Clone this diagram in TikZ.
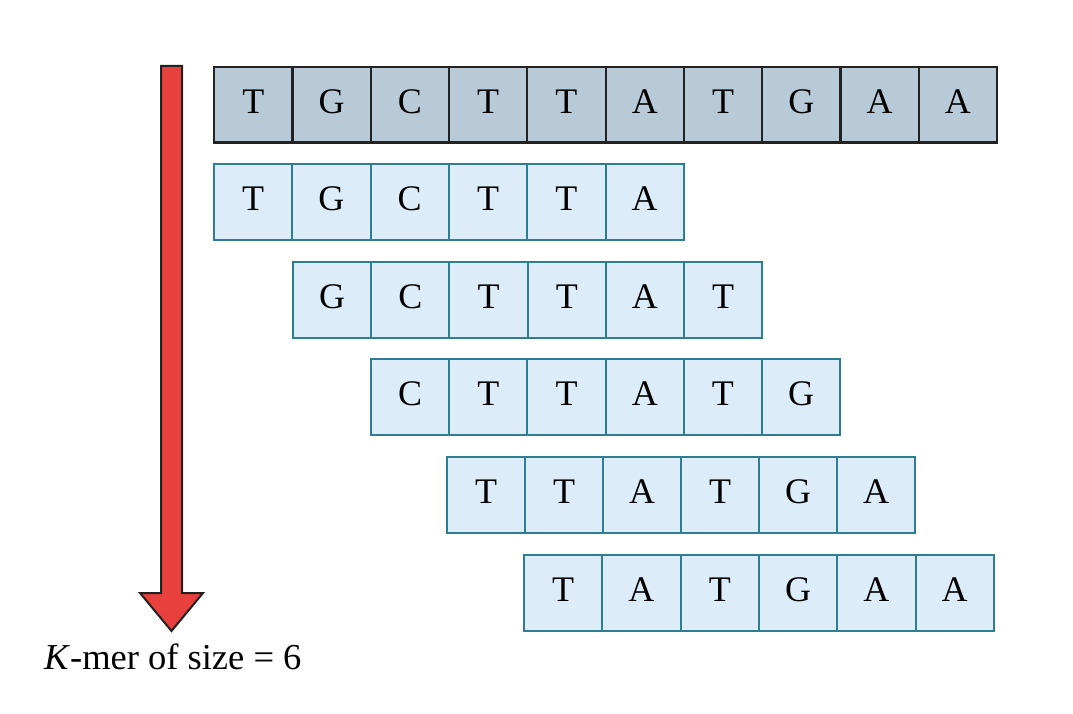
\documentclass[tikz,border=0pt]{standalone}
\usepackage{fontspec}
\setmainfont{Liberation Serif}
\definecolor{topfill}{RGB}{184,201,216}
\definecolor{kfill}{RGB}{220,237,249}
\definecolor{kdraw}{RGB}{47,125,145}
\definecolor{arrowred}{RGB}{232,64,60}
\definecolor{darkline}{RGB}{34,34,34}
\begin{document}
\begin{tikzpicture}[x=1pt,y=-1pt,
  cellbase/.style={minimum width=78.3pt,inner sep=0pt,text height=25pt,text depth=8pt,font=\fontsize{36}{40}\selectfont,anchor=north west},
  topcell/.style={cellbase,draw=darkline,fill=topfill,line width=2.2pt,minimum height=75.5pt},
  kcell/.style={cellbase,draw=kdraw,fill=kfill,line width=2pt,minimum height=76pt}]
\useasboundingbox (0,0) rectangle (1073,714);
% top sequence
\foreach \l [count=\i from 0] in {T,G,C,T,T,A,T,G,A,A}
  \node[topcell] (s\i) at ({213+78.3*\i},66) {\l};
% k-mers
\foreach \l [count=\i from 0] in {T,G,C,T,T,A}
  \node[kcell] (a\i) at ({213+78.3*\i},163) {\l};
\foreach \l [count=\i from 0] in {G,C,T,T,A,T}
  \node[kcell] (b\i) at ({292+78.2*\i},261) {\l};
\foreach \l [count=\i from 0] in {C,T,T,A,T,G}
  \node[kcell] (c\i) at ({370+78.2*\i},358) {\l};
\foreach \l [count=\i from 0] in {T,T,A,T,G,A}
  \node[kcell] (d\i) at ({446+78*\i},456) {\l};
\foreach \l [count=\i from 0] in {T,A,T,G,A,A}
  \node[kcell] (e\i) at ({523+78.3*\i},554) {\l};
% arrow
\draw[fill=arrowred,draw=darkline,line width=2pt,line join=miter]
  (161,66) -- (182,66) -- (182,593) -- (203,593) -- (171.5,631) -- (140,593) -- (161,593) -- cycle;
\node[anchor=west,inner sep=0pt,font=\fontsize{36.5}{40}\selectfont] (lbl) at (44,657) {\textit{K}-mer of size = 6};
\end{tikzpicture}
\end{document}
